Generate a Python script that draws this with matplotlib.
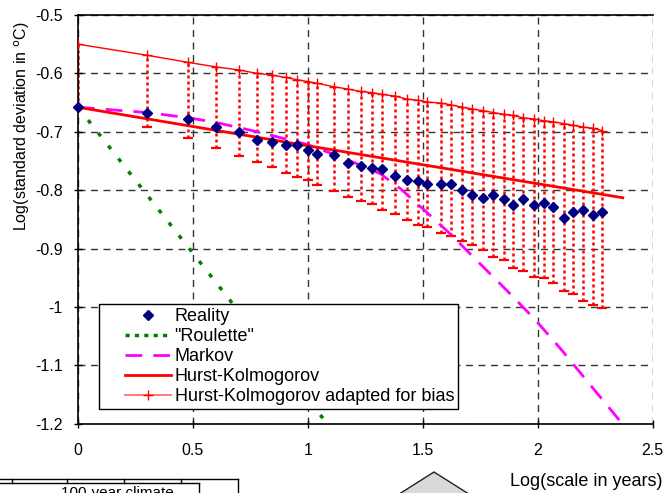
import numpy as np
import matplotlib
matplotlib.use("Agg")
import matplotlib.pyplot as plt
from matplotlib.lines import Line2D
from matplotlib.patches import Polygon
from matplotlib.legend_handler import HandlerLine2D

plt.rcParams['font.family'] = ['Liberation Sans', 'DejaVu Sans']

# time scales (years) of the averaging windows
scales = [1, 2, 3, 4, 5, 6, 7, 8, 9, 10, 11, 13, 15, 17, 19, 21, 24, 27, 30, 33,
          38, 42, 47, 52, 58, 64, 71, 78, 86, 96, 106, 117, 130, 143, 158, 174, 191]

reality = [-0.658, -0.667, -0.678, -0.692, -0.701, -0.714, -0.718, -0.723, -0.723,
           -0.732, -0.738, -0.740, -0.753, -0.758, -0.762, -0.764, -0.776, -0.783,
           -0.785, -0.789, -0.789, -0.789, -0.800, -0.808, -0.813, -0.808, -0.815,
           -0.826, -0.815, -0.825, -0.822, -0.829, -0.847, -0.838, -0.834, -0.842,
           -0.838]

hk_bias = [-0.550, -0.569, -0.581, -0.589, -0.594, -0.600, -0.603, -0.607, -0.611,
           -0.614, -0.617, -0.623, -0.627, -0.631, -0.633, -0.636, -0.639, -0.644,
           -0.646, -0.649, -0.651, -0.654, -0.658, -0.661, -0.664, -0.667, -0.670,
           -0.672, -0.676, -0.678, -0.681, -0.683, -0.686, -0.689, -0.692, -0.694,
           -0.698]

hk_low = [-0.658, -0.691, -0.711, -0.728, -0.741, -0.751, -0.761, -0.771, -0.777,
          -0.782, -0.792, -0.801, -0.812, -0.818, -0.824, -0.834, -0.841, -0.851,
          -0.859, -0.863, -0.874, -0.879, -0.887, -0.894, -0.902, -0.914, -0.920,
          -0.933, -0.939, -0.948, -0.951, -0.959, -0.973, -0.978, -0.990, -0.997,
          -1.002]

hk_x = [0.0, 1.0, 2.0, 2.37]
hk_y = [-0.658, -0.724, -0.789, -0.813]

roulette_x = [0.0, 1.1]
roulette_y = [-0.658, -1.208]

markov_x = [0.0, 0.3, 0.48, 0.6, 0.78, 1.0, 1.155, 1.316, 1.404, 1.52, 1.622,
            1.754, 1.871, 1.989, 2.1, 2.2, 2.357]
markov_y = [-0.658, -0.667, -0.676, -0.684, -0.700, -0.722, -0.745, -0.772, -0.798,
            -0.839, -0.876, -0.928, -0.974, -1.022, -1.072, -1.120, -1.195]

xticks = [0, 0.5, 1, 1.5, 2, 2.5]
yticks = [-1.2, -1.1, -1, -0.9, -0.8, -0.7, -0.6, -0.5]

logk = np.log10(scales)

W, H = 669, 493
fig = plt.figure(figsize=(W / 100, H / 100), dpi=100)
ax = fig.add_axes([78 / W, 1 - 423.7 / H, 574.7 / W, 408.7 / H])

ax.set_xlim(0, 2.5)
ax.set_ylim(-1.2, -0.5)
ax.set_xticks(xticks)
ax.set_yticks(yticks)
ax.set_xticklabels(['0', '0.5', '1', '1.5', '2', '2.5'])
ax.set_yticklabels(['-1.2', '-1.1', '-1', '-0.9', '-0.8', '-0.7', '-0.6', '-0.5'])
ax.tick_params(direction='inout', length=6, width=1, labelsize=11.5)
ax.tick_params(axis='x', pad=11)
ax.tick_params(axis='y', pad=8)
ax.grid(True, color='#333333', linestyle=(0, (5, 4)), linewidth=1)
ax.set_axisbelow(True)
ax.spines['right'].set_visible(False)
for s in ['left', 'bottom', 'top']:
    ax.spines[s].set_linewidth(1.2)

# error bars of the bias-adapted HK model
ax.vlines(logk, hk_low, hk_bias, colors='red', linestyles=(0, (1.2, 1.2)),
          linewidth=1.8, zorder=2)
ax.plot(logk, hk_low, linestyle='none', marker='_', markersize=7, mew=1.6,
        color='red', zorder=2)

ax.plot(roulette_x, roulette_y, color='#008000', linestyle=(0, (1.2, 3.5)),
        linewidth=2.5, zorder=3)
ax.plot(markov_x, markov_y, color='#FF00FF', linestyle=(0, (6, 4)),
        linewidth=2, zorder=3)
ax.plot(hk_x, hk_y, color='red', linewidth=2, zorder=4)
ax.plot(logk, hk_bias, color='red', linewidth=1, marker='+', markersize=7,
        mew=1, zorder=4)
ax.plot(logk, reality, linestyle='none', marker='D', markersize=5,
        color='#000080', zorder=5, clip_on=False)

handles = [
    Line2D([], [], linestyle='none', marker='D', markersize=5, color='#000080'),
    Line2D([], [], color='#008000', linestyle=(0, (1.2, 1.5)), linewidth=2.5),
    Line2D([], [], color='#FF00FF', linestyle=(0, (6, 4)), linewidth=2),
    Line2D([], [], color='red', linewidth=2),
    Line2D([], [], color='#ff6060', linewidth=1.2, marker='+', markersize=7,
           mec='red', mew=1),
]
labels = ['Reality', '"Roulette"', 'Markov', 'Hurst-Kolmogorov',
          'Hurst-Kolmogorov adapted for bias']
leg_fs = 13
px_per_em = leg_fs * 100 / 72
leg = ax.legend(handles, labels, loc='lower left', bbox_to_anchor=(0.0365, 0.036),
                borderaxespad=0, fontsize=leg_fs, frameon=True, fancybox=False,
                edgecolor='black', framealpha=1,
                handlelength=68 / px_per_em, handletextpad=4 / px_per_em,
                labelspacing=0.17, borderpad=0.2, numpoints=1,
                handler_map={Line2D: HandlerLine2D(xpad=22 / px_per_em)})
leg.get_frame().set_linewidth(1)
leg.set_zorder(10)

ax.set_xlabel('Log(scale in years)', fontsize=13)
ax.xaxis.set_label_coords((662 - 78) / 574.7, -(481 - 423.7) / 408.7)
ax.xaxis.label.set_horizontalalignment('right')
ax.xaxis.label.set_verticalalignment('center')
ax.set_ylabel('Log(standard deviation in $^{\\mathrm{o}}$C)', fontsize=11.5)
ax.yaxis.set_label_coords((22 - 78) / 574.7, (423.7 - 126) / 408.7)
ax.yaxis.label.set_verticalalignment('center')

# pieces of the neighbouring figure, cut at the bottom edge
def fx(px):
    return px / W

def fy(py):
    return 1 - py / H

for xs, ys in [([0, 238], [479, 479]), ([238, 238], [479, 500]),
               ([0, 199], [483, 483]), ([199, 199], [483, 500])]:
    fig.add_artist(Line2D([fx(v) for v in xs], [fy(v) for v in ys],
                          color='black', linewidth=1))
for tx in [12, 67, 124, 181]:
    fig.add_artist(Line2D([fx(tx), fx(tx)], [fy(479), fy(483)],
                          color='black', linewidth=1))
fig.text(fx(117), fy(486.5), '100-year climate', ha='center', va='top', fontsize=11)
fig.add_artist(Polygon([(fx(396), fy(496)), (fx(434), fy(472)), (fx(472), fy(496))],
                       closed=True, facecolor='#d9d9d9', edgecolor='#222222',
                       linewidth=1, transform=fig.transFigure))

fig.savefig('out.png', dpi=100)
